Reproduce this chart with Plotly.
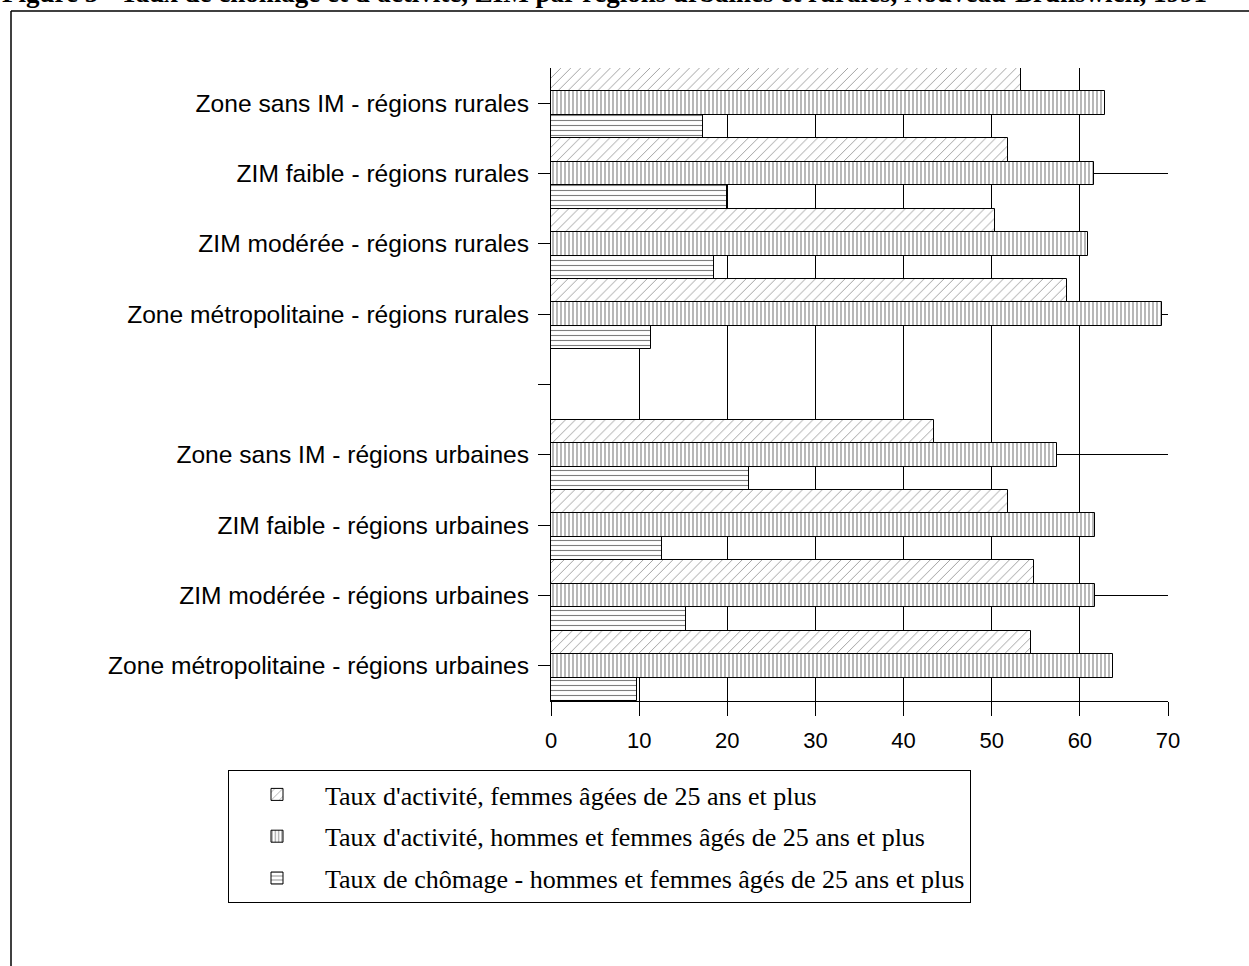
import plotly.graph_objects as go

# categories listed bottom -> top ("" = empty separator slot)
categories = [
    "Zone métropolitaine - régions urbaines",
    "ZIM modérée - régions urbaines",
    "ZIM faible - régions urbaines",
    "Zone sans IM - régions urbaines",
    "",
    "Zone métropolitaine - régions rurales",
    "ZIM modérée - régions rurales",
    "ZIM faible - régions rurales",
    "Zone sans IM - régions rurales",
]
femmes_activite = [54.4, 54.8, 51.8, 43.4, None, 58.5, 50.4, 51.8, 53.3]
total_activite = [63.8, 61.7, 61.7, 57.4, None, 69.3, 60.9, 61.6, 62.9]
chomage = [9.7, 15.3, 12.6, 22.5, None, 11.4, 18.5, 20.0, 17.2]

series_names = [
    "Taux de chômage - hommes et femmes âgés de 25 ans et plus",
    "Taux d'activité, hommes et femmes âgés de 25 ans et plus",
    "Taux d'activité, femmes âgées de 25 ans et plus",
]
legend_ranks = [3, 2, 1]
x_ticks = [0, 10, 20, 30, 40, 50, 60, 70]
title_text = ("Figure 5 - Taux de chômage et d'activité, ZIM par régions urbaines "
              "et rurales, Nouveau-Brunswick, 1991")

positions = list(range(len(categories)))

W, H = 1249, 966
L, R, T, B = 551, 81, 68, 265
pw, ph = W - L - R, H - T - B

def px2paper_x(px):
    return (px - L) / pw

def px2paper_y(py):
    return (H - B - py) / ph

patterns = [
    dict(shape="-", size=5, solidity=0.22, fgcolor="#000", bgcolor="white", fillmode="overlay"),
    dict(shape="|", size=4, solidity=0.28, fgcolor="#000", bgcolor="white", fillmode="overlay"),
    dict(shape="/", size=7, solidity=0.12, fgcolor="#222", bgcolor="white", fillmode="overlay"),
]
data = [chomage, total_activite, femmes_activite]

fig = go.Figure()
for i, (vals, name, pat, rk) in enumerate(zip(data, series_names, patterns, legend_ranks)):
    fig.add_trace(go.Bar(
        y=positions, x=vals, orientation="h", name=name,
        legendgroup=f"g{i}", legendrank=rk,
        marker=dict(color="white", pattern=pat, line=dict(color="black", width=1)),
    ))

fig.update_layout(
    width=W, height=H,
    margin=dict(l=L, r=R, t=T, b=B, pad=0),
    paper_bgcolor="white", plot_bgcolor="white",
    barmode="group", bargap=0, bargroupgap=0,
    showlegend=True,
    legend=dict(
        x=px2paper_x(228), y=px2paper_y(770), xanchor="left", yanchor="top",
        bordercolor="black", borderwidth=1, bgcolor="white",
        font=dict(family="Liberation Serif", size=26, color="black"),
        traceorder="grouped", tracegroupgap=5,
        itemwidth=86,
    ),
    xaxis=dict(
        range=[0, 70], tickvals=x_ticks, ticks="outside", ticklen=14,
        tickcolor="black", showline=True, linecolor="black", linewidth=1,
        showgrid=True, gridcolor="black", gridwidth=1, zeroline=False,
        ticklabelstandoff=6,
        tickfont=dict(family="Liberation Sans", size=22, color="black"),
    ),
    yaxis=dict(
        range=[-0.5, 8.5], tickvals=positions, ticktext=categories,
        ticks="outside", ticklen=12, tickcolor="black",
        showline=True, linecolor="black", linewidth=1,
        showgrid=False, zeroline=False, ticklabelstandoff=4,
        tickfont=dict(family="Liberation Sans", size=24.6, color="black"),
        minor=dict(tick0=1, dtick=2, showgrid=True, gridcolor="black", gridwidth=1, ticks=""),
    ),
    shapes=[
        dict(type="line", xref="paper", yref="paper",
             x0=px2paper_x(11), x1=px2paper_x(11), y0=px2paper_y(11), y1=px2paper_y(H + 5),
             line=dict(color="black", width=1.5)),
        dict(type="line", xref="paper", yref="paper",
             x0=px2paper_x(11), x1=px2paper_x(W + 5), y0=px2paper_y(11), y1=px2paper_y(11),
             line=dict(color="black", width=1.5)),
    ],
    annotations=[
        dict(text=f"<b>{title_text}</b>", xref="paper", yref="paper",
             x=px2paper_x(0), y=px2paper_y(-7), xanchor="left", yanchor="middle",
             showarrow=False, font=dict(family="Liberation Serif", size=27, color="black")),
    ],
)

fig.write_html("out.html", config={"displayModeBar": False},
               post_script="document.body.style.margin='0';")
